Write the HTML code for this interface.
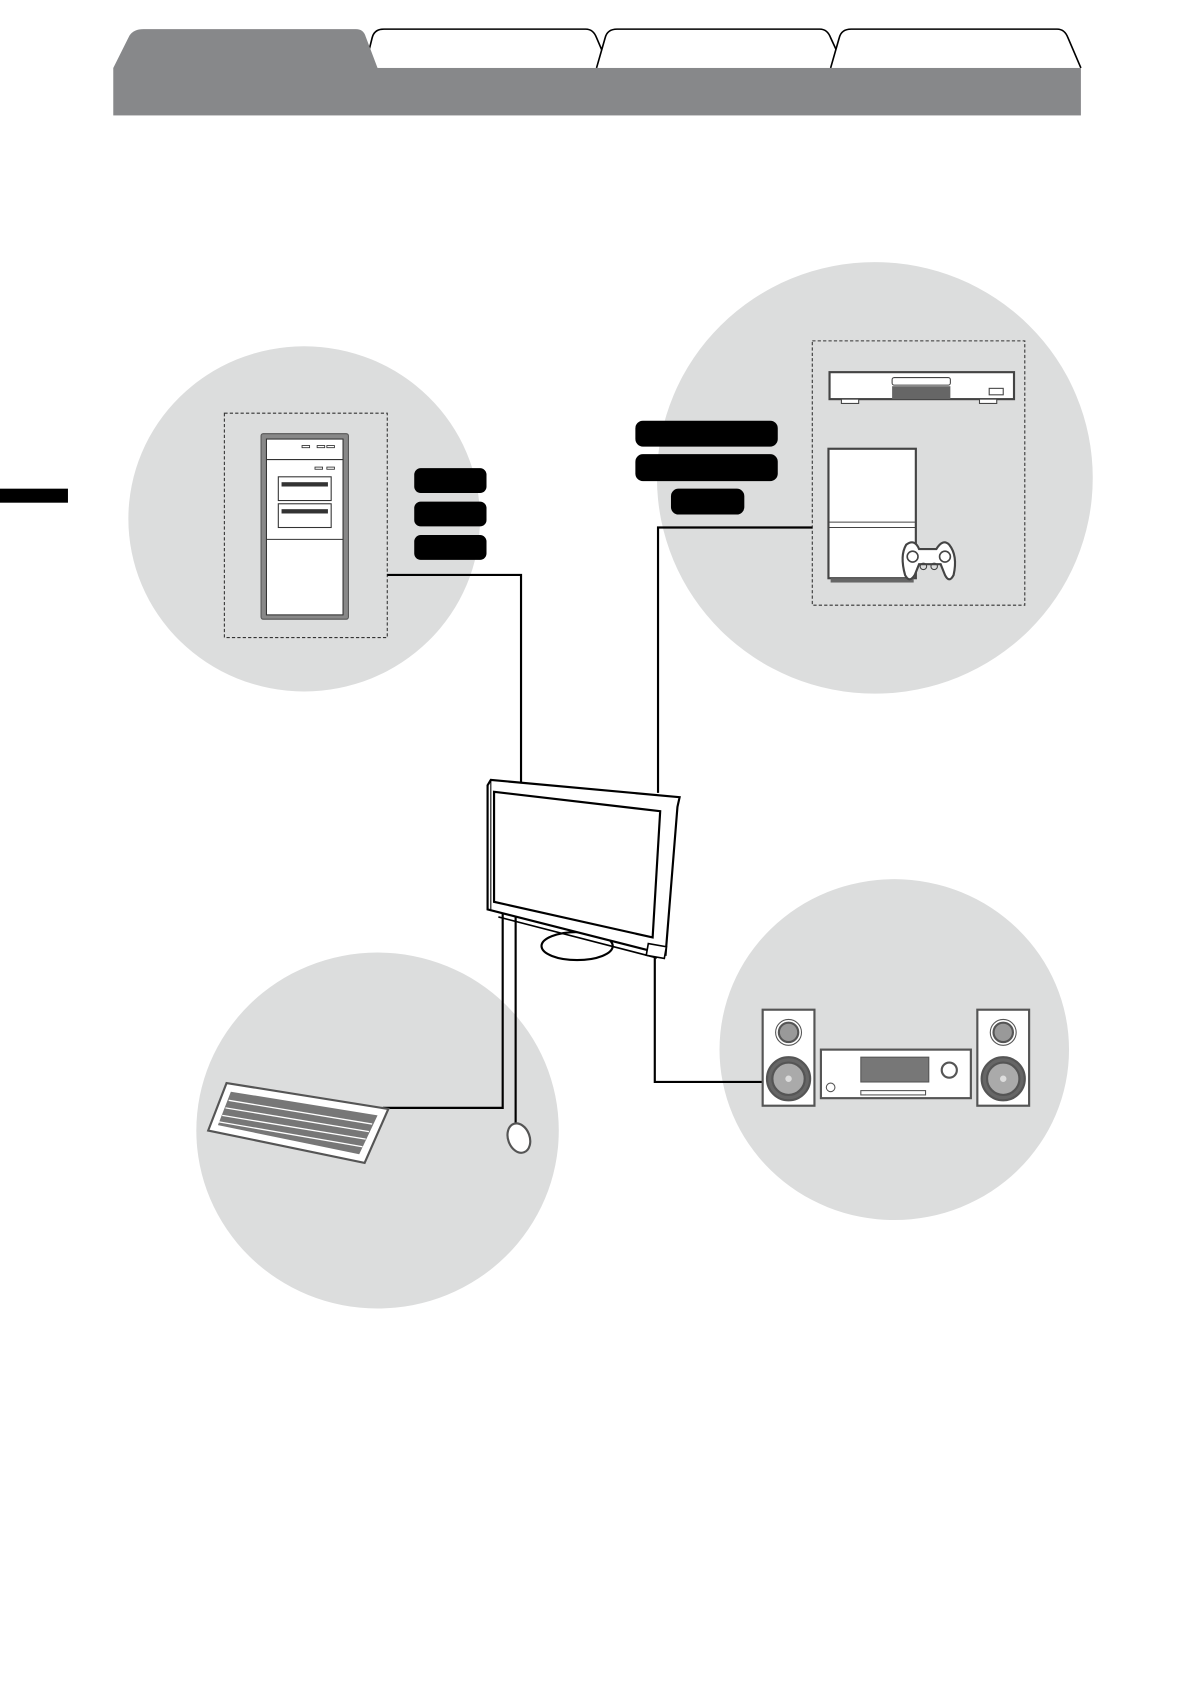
<!DOCTYPE html>
<html><head><meta charset="utf-8"><style>html,body{margin:0;padding:0;background:#fff}svg{display:block}</style></head>
<body>
<svg width="1192" height="1685" viewBox="0 0 1105 1562" preserveAspectRatio="none" xmlns="http://www.w3.org/2000/svg">
<rect width="1105" height="1562" fill="#fff"/>
<!-- tabs -->
<path d="M338,63 L345,35 Q347,27 356,27 L543,27 Q550,27 553,35 L565,63" fill="#fff" stroke="#000" stroke-width="1.5"/>
<path d="M553,63 L561,35 Q563,27 572,27 L760,27 Q767,27 770,35 L783,63" fill="#fff" stroke="#000" stroke-width="1.5"/>
<path d="M770,63 L778,35 Q780,27 789,27 L980,27 Q987,27 990,35 L1002,63" fill="#fff" stroke="#000" stroke-width="1.5"/>
<path d="M105,63 L120,33 Q124,27 133,27 L330,27 Q337,27 339,34 L350,63 Z" fill="#87888a"/>
<rect x="105" y="63" width="897" height="44" fill="#87888a"/>
<rect x="0" y="453" width="63" height="13" fill="#000"/>
<!-- circles -->
<ellipse cx="282" cy="481" rx="163" ry="160" fill="#dcdddd"/>
<ellipse cx="811" cy="443" rx="202" ry="200" fill="#dcdddd"/>
<ellipse cx="350" cy="1048" rx="168" ry="165" fill="#dcdddd"/>
<ellipse cx="829" cy="973" rx="162" ry="158" fill="#dcdddd"/>
<!-- PC -->
<rect x="208" y="383" width="151" height="208" fill="none" stroke="#333" stroke-dasharray="3,2"/>
<rect x="242" y="402" width="81" height="172" rx="2" fill="#888" stroke="#555"/>
<rect x="247" y="407" width="71" height="163" fill="#fff" stroke="#333"/>
<line x1="247" y1="426" x2="318" y2="426" stroke="#333"/>
<line x1="247" y1="500" x2="318" y2="500" stroke="#333"/>
<rect x="258" y="442" width="49" height="22" fill="#fff" stroke="#333"/>
<rect x="258" y="467" width="49" height="22" fill="#fff" stroke="#333"/>
<rect x="261" y="447" width="43" height="4" fill="#333"/>
<rect x="261" y="472" width="43" height="4" fill="#333"/>
<g fill="none" stroke="#333" stroke-width="0.8"><rect x="280" y="413" width="7" height="2"/><rect x="294" y="413" width="7" height="2"/><rect x="303" y="413" width="7" height="2"/><rect x="292" y="433" width="7" height="2"/><rect x="303" y="433" width="7" height="2"/></g>
<!-- labels -->
<g fill="#000"><rect x="384" y="434" width="67" height="23" rx="6"/><rect x="384" y="465" width="67" height="23" rx="6"/><rect x="384" y="496" width="67" height="23" rx="6"/>
<rect x="589" y="390" width="132" height="24" rx="7"/><rect x="589" y="421" width="132" height="25" rx="7"/><rect x="622" y="453" width="68" height="24" rx="7"/></g>
<!-- AV devices -->
<rect x="753" y="316" width="197" height="245" fill="none" stroke="#333" stroke-dasharray="3,2"/>
<rect x="769" y="345" width="171" height="25" fill="#fff" stroke="#444" stroke-width="2"/>
<rect x="827" y="350" width="54" height="7" rx="2" fill="#fff" stroke="#444"/>
<rect x="827" y="358" width="54" height="12" fill="#666"/>
<rect x="917" y="360" width="13" height="6" fill="none" stroke="#444"/>
<rect x="780" y="370" width="16" height="4" fill="#fff" stroke="#444"/><rect x="908" y="370" width="16" height="4" fill="#fff" stroke="#444"/>
<rect x="768" y="416" width="81" height="120" fill="#fff" stroke="#444" stroke-width="2"/>
<line x1="768" y1="484" x2="849" y2="484" stroke="#444"/><line x1="768" y1="489" x2="849" y2="489" stroke="#444"/>
<rect x="770" y="536" width="77" height="4" fill="#666"/>
<path d="M840,505 q8,-6 12,4 l16,0 q6,-10 12,-4 q8,10 4,28 q-4,8 -8,0 l-4,-10 l-20,0 l-4,10 q-5,8 -9,0 q-5,-18 1,-28z" fill="#fff" stroke="#444" stroke-width="2"/>
<circle cx="846" cy="516" r="5" fill="none" stroke="#444" stroke-width="1.5"/><circle cx="876" cy="516" r="5" fill="none" stroke="#444" stroke-width="1.5"/>
<circle cx="856" cy="525" r="3" fill="none" stroke="#444"/><circle cx="866" cy="525" r="3" fill="none" stroke="#444"/>
<!-- connectors -->
<g fill="none" stroke="#000" stroke-width="2">
<polyline points="359,533 483,533 483,725"/>
<polyline points="753,489 610,489 610,735"/>
<polyline points="466,845 466,1027 355,1027"/>
<polyline points="478,848 478,1043"/>
<polyline points="607,885 607,1003 707,1003"/>
</g>
<!-- monitor -->
<ellipse cx="535" cy="877" rx="33" ry="13" fill="#fff" stroke="#000" stroke-width="2"/>
<path d="M452,728 L455,723 L630,739 L628,748 L617,885 L452,843 Z" fill="#fff" stroke="#000" stroke-width="2"/>
<path d="M458,734 L612,752 L605,869 L458,836 Z" fill="#fff" stroke="#000" stroke-width="2"/>
<line x1="455" y1="724" x2="455" y2="843" stroke="#000"/>
<line x1="462" y1="850" x2="609" y2="888" stroke="#000" stroke-width="1.5"/>
<rect x="600" y="876" width="17" height="11" fill="#fff" stroke="#000" stroke-width="1.5" transform="rotate(10 608 881)"/>
<!-- keyboard -->
<path d="M210,1004 L360,1028 L338,1078 L193,1048 Z" fill="#fff" stroke="#555" stroke-width="2"/>
<path d="M214,1012 L350,1034 L333,1070 L202,1043 Z" fill="#777"/>
<g stroke="#fff" stroke-width="1.2"><line x1="212" y1="1020" x2="345" y2="1042"/><line x1="209" y1="1027" x2="342" y2="1049"/><line x1="206" y1="1034" x2="339" y2="1056"/><line x1="203" y1="1040" x2="336" y2="1063"/></g>
<ellipse cx="481" cy="1055" rx="10" ry="14" transform="rotate(-20 481 1055)" fill="#fff" stroke="#555" stroke-width="2"/>
<!-- audio -->
<g stroke="#555" stroke-width="2">
<rect x="707" y="936" width="48" height="89" fill="#fff"/>
<rect x="906" y="936" width="48" height="89" fill="#fff"/>
<circle cx="731" cy="957" r="12" fill="#fff" stroke-width="1"/><circle cx="731" cy="957" r="9" fill="#999"/>
<circle cx="930" cy="957" r="12" fill="#fff" stroke-width="1"/><circle cx="930" cy="957" r="9" fill="#999"/>
<circle cx="731" cy="1000" r="20" fill="#666"/><circle cx="731" cy="1000" r="15" fill="#aaa"/>
<circle cx="930" cy="1000" r="20" fill="#666"/><circle cx="930" cy="1000" r="15" fill="#aaa"/>
<rect x="761" y="973" width="139" height="45" fill="#fff"/>
<rect x="798" y="980" width="63" height="23" fill="#777" stroke-width="1"/>
<circle cx="880" cy="992" r="7" fill="#fff"/>
<circle cx="770" cy="1008" r="4" fill="#fff" stroke-width="1"/>
<rect x="798" y="1011" width="60" height="4" fill="#fff" stroke-width="1"/>
</g>
<circle cx="731" cy="1000" r="3" fill="#ddd"/><circle cx="930" cy="1000" r="3" fill="#ddd"/>
</svg>
</body></html>
